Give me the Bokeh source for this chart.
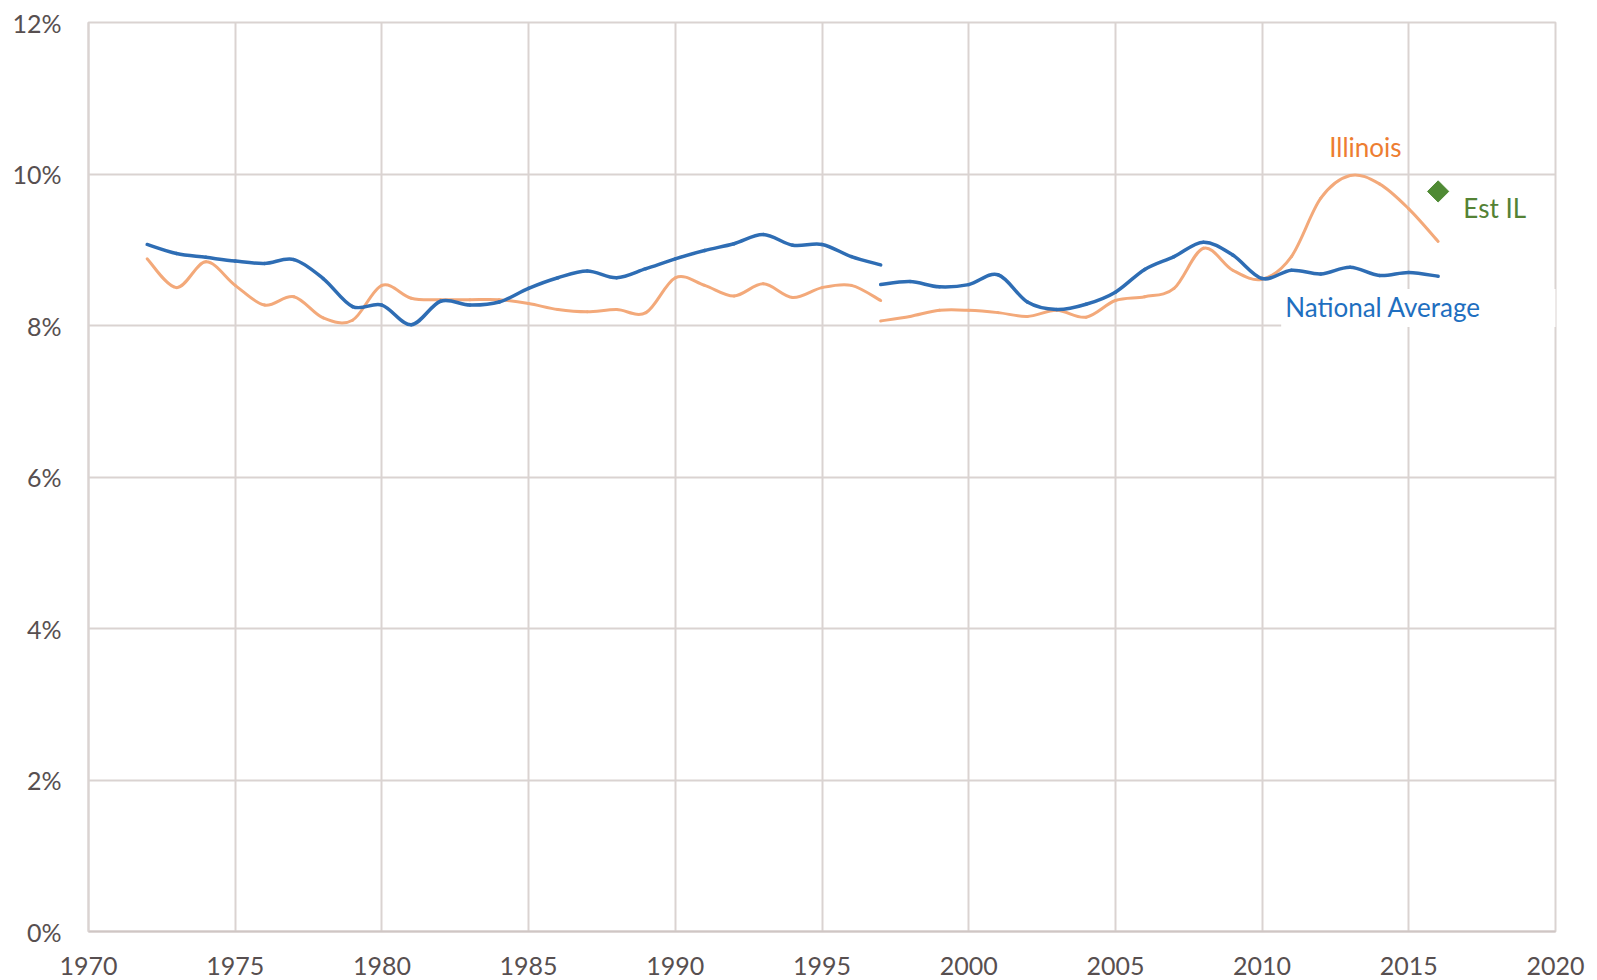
import math
from bokeh.plotting import figure
from bokeh.models import Range1d, FixedTicker, PrintfTickFormatter, Label, ColumnDataSource
from bokeh.embed import file_html
from bokeh.resources import INLINE

# ---- data (percent) ----
years1 = list(range(1972, 1998))
national1 = [9.07, 8.95, 8.90, 8.85, 8.82, 8.87, 8.62, 8.25, 8.27, 8.01, 8.32, 8.27, 8.31,
             8.49, 8.63, 8.72, 8.63, 8.75, 8.88, 8.99, 9.08, 9.20, 9.06, 9.07, 8.91, 8.80]
illinois1 = [8.88, 8.50, 8.84, 8.53, 8.27, 8.38, 8.10, 8.07, 8.53, 8.36, 8.34, 8.34, 8.34,
             8.29, 8.21, 8.18, 8.21, 8.17, 8.63, 8.53, 8.39, 8.55, 8.37, 8.50, 8.53, 8.33]
years2 = list(range(1997, 2017))
national2 = [8.54, 8.58, 8.51, 8.54, 8.67, 8.31, 8.21, 8.28, 8.44, 8.74, 8.91, 9.10, 8.93,
             8.62, 8.73, 8.68, 8.77, 8.66, 8.70, 8.65]
illinois2 = [8.06, 8.12, 8.20, 8.20, 8.17, 8.12, 8.20, 8.11, 8.33, 8.38, 8.49, 9.02, 8.73,
             8.61, 8.91, 9.68, 9.98, 9.87, 9.54, 9.11]
est_year = [2016]
est_value = [9.77]
x_ticks = [1970, 1975, 1980, 1985, 1990, 1995, 2000, 2005, 2010, 2015, 2020]
y_ticks = [0, 2, 4, 6, 8, 10, 12]

BLUE = "#2E6DB4"
ORANGE = "#F3A97A"
GRID = "#DAD3D1"
TICK_TXT = "#574F50"

p = figure(width=1589, height=978, output_backend="svg", toolbar_location=None,
           x_range=Range1d(1970, 2020), y_range=Range1d(0, 12),
           min_border_left=88, min_border_right=34, min_border_top=22, min_border_bottom=47)
p.background_fill_color = "white"
p.border_fill_color = "white"
p.outline_line_color = GRID
p.outline_line_width = 2

for ax in (p.xaxis[0], p.yaxis[0]):
    ax.major_tick_line_color = None
    ax.minor_tick_line_color = None
    ax.major_label_text_font = "Lato"
    ax.major_label_text_font_size = "25px"
    ax.major_label_text_color = TICK_TXT
p.xaxis[0].ticker = FixedTicker(ticks=x_ticks)
p.xaxis[0].formatter = PrintfTickFormatter(format="%d")
p.xaxis[0].axis_line_color = "#CFC6C4"
p.xaxis[0].axis_line_width = 2
p.xaxis[0].major_label_standoff = 19
p.yaxis[0].ticker = FixedTicker(ticks=y_ticks)
p.yaxis[0].formatter = PrintfTickFormatter(format="%d%%")
p.yaxis[0].axis_line_color = GRID
p.yaxis[0].axis_line_width = 2
p.yaxis[0].major_label_standoff = 21

p.xgrid.grid_line_color = GRID
p.xgrid.grid_line_width = 2
p.ygrid.grid_line_color = GRID
p.ygrid.grid_line_width = 2


def smooth_source(xs, ys):
    n = len(xs)
    d = dict(x0=[], y0=[], x1=[], y1=[], cx0=[], cy0=[], cx1=[], cy1=[])
    for i in range(n - 1):
        a = i - 1 if i > 0 else i
        b = i + 2 if i + 2 < n else i + 1
        d["x0"].append(xs[i]); d["y0"].append(ys[i])
        d["x1"].append(xs[i + 1]); d["y1"].append(ys[i + 1])
        d["cx0"].append(xs[i] + (xs[i + 1] - xs[a]) / 6.0)
        d["cy0"].append(ys[i] + (ys[i + 1] - ys[a]) / 6.0)
        d["cx1"].append(xs[i + 1] - (xs[b] - xs[i]) / 6.0)
        d["cy1"].append(ys[i + 1] - (ys[b] - ys[i]) / 6.0)
    return ColumnDataSource(d)


for xs, ys in ((years1, illinois1), (years2, illinois2)):
    p.bezier(x0="x0", y0="y0", x1="x1", y1="y1", cx0="cx0", cy0="cy0", cx1="cx1", cy1="cy1",
             source=smooth_source(xs, ys), line_color=ORANGE, line_width=3, line_cap="round")
for xs, ys in ((years1, national1), (years2, national2)):
    p.bezier(x0="x0", y0="y0", x1="x1", y1="y1", cx0="cx0", cy0="cy0", cx1="cx1", cy1="cy1",
             source=smooth_source(xs, ys), line_color=BLUE, line_width=3.5, line_cap="round")

p.scatter(est_year, est_value, marker="square", angle=math.pi / 4, size=15,
          fill_color="#4F8A34", line_color="#4F8A34")

p.add_layout(Label(x=2013.52, y=10.36, text="Illinois", text_align="center",
                   text_baseline="alphabetic", text_font="Lato", text_font_size="26px",
                   text_color="#ED7D31"))
p.add_layout(Label(x=2016.86, y=9.55, text="Est IL", text_align="left",
                   text_baseline="alphabetic", text_font="Lato", text_font_size="26px",
                   text_color="#548235"))
p.add_layout(Label(x=2010.65, y=8.23, text="National Average", text_align="left",
                   text_baseline="alphabetic", text_font="Lato", text_font_size="26px",
                   text_color="#1F6FC0", background_fill_color="white",
                   padding=dict(left=4, right=76, top=2, bottom=4)))

open("out.html", "w").write(file_html(p, INLINE))
